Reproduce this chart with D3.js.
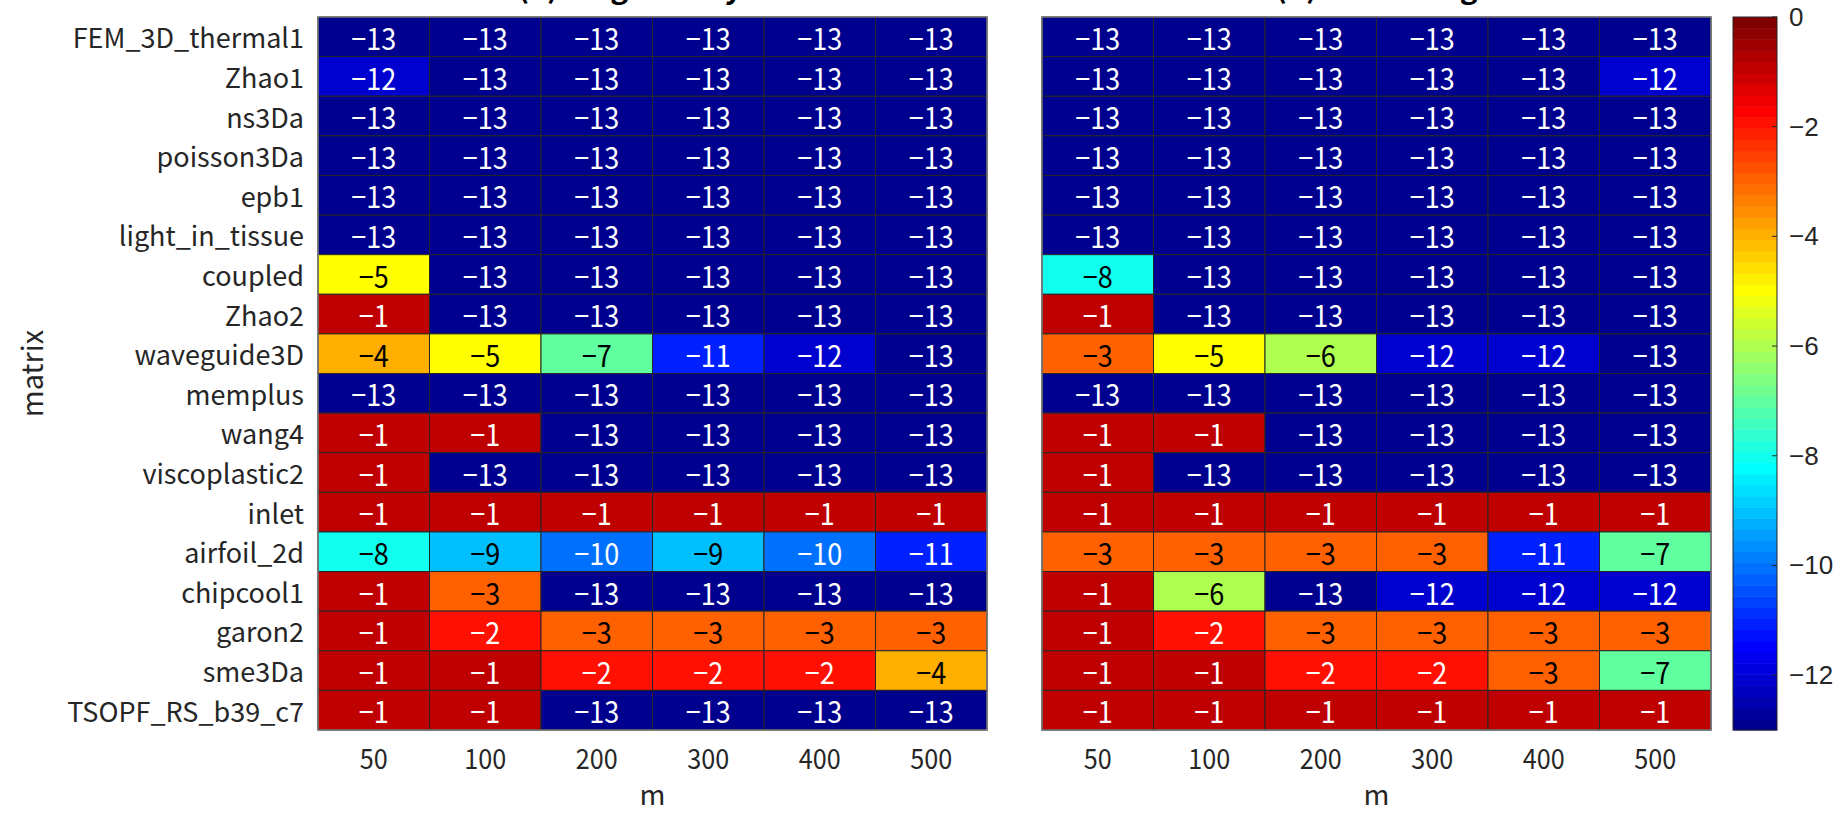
<!DOCTYPE html>
<html>
<head>
<meta charset="utf-8">
<script src="https://cdn.jsdelivr.net/npm/d3@7"></script>
<style>
  body { margin: 0; background: #fff; }
  svg text { font-family: "Noto Sans CJK JP", "Noto Sans", sans-serif; }
</style>
</head>
<body>
<div id="chart"></div>
<script>
const matrices = ["FEM_3D_thermal1", "Zhao1", "ns3Da", "poisson3Da", "epb1", "light_in_tissue",
  "coupled", "Zhao2", "waveguide3D", "memplus", "wang4", "viscoplastic2", "inlet",
  "airfoil_2d", "chipcool1", "garon2", "sme3Da", "TSOPF_RS_b39_c7"];
const mValues = ["50", "100", "200", "300", "400", "500"];
const titles = ["(a) Original Krylov", "(b) Restarting"];

const valuesA = [
  [-13, -13, -13, -13, -13, -13],
  [-12, -13, -13, -13, -13, -13],
  [-13, -13, -13, -13, -13, -13],
  [-13, -13, -13, -13, -13, -13],
  [-13, -13, -13, -13, -13, -13],
  [-13, -13, -13, -13, -13, -13],
  [-5, -13, -13, -13, -13, -13],
  [-1, -13, -13, -13, -13, -13],
  [-4, -5, -7, -11, -12, -13],
  [-13, -13, -13, -13, -13, -13],
  [-1, -1, -13, -13, -13, -13],
  [-1, -13, -13, -13, -13, -13],
  [-1, -1, -1, -1, -1, -1],
  [-8, -9, -10, -9, -10, -11],
  [-1, -3, -13, -13, -13, -13],
  [-1, -2, -3, -3, -3, -3],
  [-1, -1, -2, -2, -2, -4],
  [-1, -1, -13, -13, -13, -13]
];
const valuesB = [
  [-13, -13, -13, -13, -13, -13],
  [-13, -13, -13, -13, -13, -12],
  [-13, -13, -13, -13, -13, -13],
  [-13, -13, -13, -13, -13, -13],
  [-13, -13, -13, -13, -13, -13],
  [-13, -13, -13, -13, -13, -13],
  [-8, -13, -13, -13, -13, -13],
  [-1, -13, -13, -13, -13, -13],
  [-3, -5, -6, -12, -12, -13],
  [-13, -13, -13, -13, -13, -13],
  [-1, -1, -13, -13, -13, -13],
  [-1, -13, -13, -13, -13, -13],
  [-1, -1, -1, -1, -1, -1],
  [-3, -3, -3, -3, -11, -7],
  [-1, -6, -13, -12, -12, -12],
  [-1, -2, -3, -3, -3, -3],
  [-1, -1, -2, -2, -3, -7],
  [-1, -1, -1, -1, -1, -1]
];
const colorTicks = [0, -2, -4, -6, -8, -10, -12];
const cMin = -13, cMax = 0;

const W = 1841, H = 814;
const plotTop = 17, plotBottom = 730;
const panels = [
  { x0: 318, x1: 987, data: valuesA, title: titles[0], showY: true },
  { x0: 1042, x1: 1711, data: valuesB, title: titles[1], showY: false }
];
const cbar = { x0: 1733, x1: 1777 };

// MATLAB jet(64)
function jet64() {
  const n = 64, m = 16;
  const u = [];
  for (let i = 1; i <= m; i++) u.push(i / m);
  for (let i = 0; i < m - 1; i++) u.push(1);
  for (let i = m; i >= 1; i--) u.push(i / m);
  const gOff = Math.ceil(m / 2);
  const cols = d3.range(n).map(() => [0, 0, 0]);
  u.forEach((v, j) => {
    const gi = gOff + j, ri = gi + m, bi = gi - m;
    if (gi >= 0 && gi < n) cols[gi][1] = v;
    if (ri >= 0 && ri < n) cols[ri][0] = v;
    if (bi >= 0 && bi < n) cols[bi][2] = v;
  });
  return cols;
}
const cmap = jet64();
function colorIndex(v) {
  let i = Math.floor((v - cMin) / (cMax - cMin) * cmap.length);
  return Math.max(0, Math.min(cmap.length - 1, i));
}
function fill(v) {
  const c = cmap[colorIndex(v)];
  return d3.rgb(c[0] * 255, c[1] * 255, c[2] * 255).formatHex();
}
function textColor(v) {
  const c = cmap[colorIndex(v)];
  const lum = 0.299 * c[0] + 0.587 * c[1] + 0.114 * c[2];
  return lum > 0.5 ? "#000" : "#fff";
}
const fmt = v => (v < 0 ? "\u2212" + Math.abs(v) : String(v));

const svg = d3.select("#chart").append("svg")
  .attr("width", W).attr("height", H);

const y = d3.scaleBand().domain(matrices).range([plotTop, plotBottom]);

panels.forEach(p => {
  const x = d3.scaleBand().domain(mValues).range([p.x0, p.x1]);
  const g = svg.append("g");

  const cells = [];
  p.data.forEach((row, i) => row.forEach((v, j) => cells.push({ r: matrices[i], c: mValues[j], v: v })));

  g.selectAll("rect.cell")
    .data(cells)
    .enter().append("rect")
    .attr("class", "cell")
    .attr("x", d => x(d.c))
    .attr("y", d => y(d.r))
    .attr("width", x.bandwidth())
    .attr("height", y.bandwidth())
    .attr("fill", d => fill(d.v))
    .attr("stroke", "#262626")
    .attr("stroke-width", 1);

  // numbers drawn a bit condensed, like the narrow font of the original
  g.selectAll("text.val")
    .data(cells)
    .enter().append("text")
    .attr("class", "val")
    .attr("transform", d => `translate(${x(d.c) + x.bandwidth() / 2},${y(d.r) + y.bandwidth() / 2}) scale(0.9,1)`)
    .attr("text-anchor", "middle")
    .attr("dominant-baseline", "central")
    .attr("font-size", 30)
    .attr("fill", d => textColor(d.v))
    .text(d => fmt(d.v));

  g.append("rect")
    .attr("x", p.x0).attr("y", plotTop)
    .attr("width", p.x1 - p.x0).attr("height", plotBottom - plotTop)
    .attr("fill", "none").attr("stroke", "#777").attr("stroke-width", 1.5);

  g.selectAll("text.xt")
    .data(mValues)
    .enter().append("text")
    .attr("class", "xt")
    .attr("transform", d => `translate(${x(d) + x.bandwidth() / 2},757) scale(0.9,1)`)
    .attr("text-anchor", "middle")
    .attr("dominant-baseline", "central")
    .attr("font-size", 28)
    .attr("fill", "#262626")
    .text(d => d);

  g.append("text")
    .attr("x", (p.x0 + p.x1) / 2)
    .attr("y", 805)
    .attr("text-anchor", "middle")
    .attr("font-size", 28)
    .attr("fill", "#262626")
    .text("m");

  g.append("text")
    .attr("x", (p.x0 + p.x1) / 2)
    .attr("y", -2)
    .attr("text-anchor", "middle")
    .attr("font-size", 30)
    .attr("font-weight", "bold")
    .attr("fill", "#000")
    .text(p.title);

  if (p.showY) {
    g.selectAll("text.yt")
      .data(matrices)
      .enter().append("text")
      .attr("class", "yt")
      .attr("x", p.x0 - 14)
      .attr("y", d => y(d) + y.bandwidth() / 2)
      .attr("text-anchor", "end")
      .attr("dominant-baseline", "central")
      .attr("font-size", 27)
      .attr("fill", "#262626")
      .text(d => d);

    g.append("text")
      .attr("transform", `translate(30,${(plotTop + plotBottom) / 2}) rotate(-90)`)
      .attr("text-anchor", "middle")
      .attr("dominant-baseline", "central")
      .attr("font-size", 29)
      .attr("fill", "#262626")
      .text("matrix");
  }
});

// colorbar
const cy = d3.scaleLinear().domain([cMin, cMax]).range([plotBottom, plotTop]);
const cb = svg.append("g");
const step = (cMax - cMin) / cmap.length;
cb.selectAll("rect.band")
  .data(d3.range(cmap.length))
  .enter().append("rect")
  .attr("class", "band")
  .attr("x", cbar.x0)
  .attr("width", cbar.x1 - cbar.x0)
  .attr("y", i => cy(cMin + (i + 1) * step))
  .attr("height", i => cy(cMin + i * step) - cy(cMin + (i + 1) * step) + 0.5)
  .attr("fill", i => d3.rgb(cmap[i][0] * 255, cmap[i][1] * 255, cmap[i][2] * 255).formatHex());
cb.append("rect")
  .attr("x", cbar.x0).attr("y", plotTop)
  .attr("width", cbar.x1 - cbar.x0).attr("height", plotBottom - plotTop)
  .attr("fill", "none").attr("stroke", "#262626").attr("stroke-width", 1);

const cAxis = cb.append("g")
  .attr("transform", `translate(${cbar.x1},0)`)
  .call(d3.axisRight(cy).tickValues(colorTicks).tickSize(0).tickPadding(12).tickFormat(fmt));
cAxis.select(".domain").remove();
cAxis.selectAll("text")
  .attr("font-size", 26)
  .attr("fill", "#262626")
  .style("font-family", "'Liberation Sans', Arial, sans-serif");
cb.selectAll("line.ctick")
  .data(colorTicks)
  .enter().append("line")
  .attr("class", "ctick")
  .attr("x1", cbar.x1 - 5).attr("x2", cbar.x1)
  .attr("y1", d => cy(d)).attr("y2", d => cy(d))
  .attr("stroke", "#262626");
</script>
</body>
</html>
